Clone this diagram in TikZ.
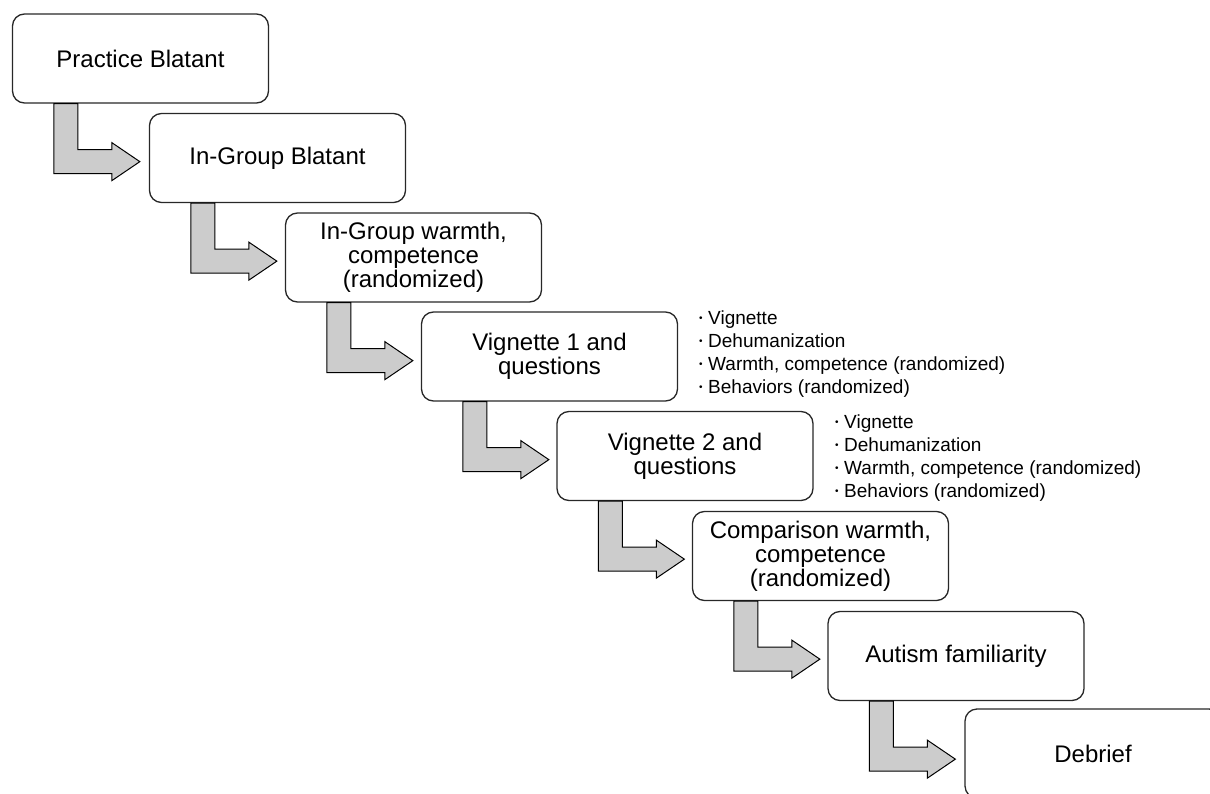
\documentclass[tikz,border=0pt]{standalone}
\usepackage{fontspec}
\setmainfont{Liberation Sans}
\usetikzlibrary{calc}
\definecolor{arrowgray}{RGB}{204,204,204}
\definecolor{edgecol}{RGB}{40,40,40}
\tikzset{
  stepbox/.style={draw=edgecol, line width=1.3pt, rounded corners=12pt,
    minimum width=256pt, minimum height=89pt, align=center,
    font=\fontsize{24}{24}\selectfont, inner sep=0pt, fill=white},
  arrowshape/.style={draw=black, line width=1pt, fill=arrowgray, line join=miter},
  bulletlist/.style={align=left, anchor=west, font=\fontsize{19}{23}\selectfont, inner sep=0pt}
}
\newcommand{\bul}{\makebox[9pt][l]{\raisebox{2.5pt}{\fontsize{10}{10}\selectfont •}}}
\newcommand{\bentarrow}[1]{%
  \draw[arrowshape] ($(#1.south west)+(42,0)$) -- ++(0,70) -- ++(58,0) -- ++(0,7)
    -- ++(28,-19) -- ++(-28,-19) -- ++(0,7) -- ++(-34,0) -- ++(0,-46) -- cycle;
}
\begin{document}
\begin{tikzpicture}[x=1pt,y=-1pt]
\useasboundingbox (0,0) rectangle (1210,794);
\clip (0,0) rectangle (1210,794);
\node[stepbox] (b1) at (140.5,58.5) {Practice Blatant};
\node[stepbox] (b2) at (277.5,158) {In-Group Blatant};
\node[stepbox] (b3) at (413.5,257.5) {In-Group warmth,\\competence\\(randomized)};
\node[stepbox] (b4) at (549.5,356.5) {Vignette 1 and\\questions};
\node[stepbox] (b5) at (685,456) {Vignette 2 and\\questions};
\node[stepbox] (b6) at (820.5,556) {Comparison warmth,\\competence\\(randomized)};
\node[stepbox] (b7) at (956,656) {Autism familiarity};
\node[stepbox] (b8) at (1093,753.5) {Debrief};
\bentarrow{b1}
\bentarrow{b2}
\bentarrow{b3}
\bentarrow{b4}
\bentarrow{b5}
\bentarrow{b6}
\bentarrow{b7}
\node[bulletlist] (l1) at (699,354) {\bul Vignette\\\bul Dehumanization\\\bul Warmth, competence (randomized)\\\bul Behaviors (randomized)};
\node[bulletlist] (l2) at (835,458) {\bul Vignette\\\bul Dehumanization\\\bul Warmth, competence (randomized)\\\bul Behaviors (randomized)};
\end{tikzpicture}
\end{document}
